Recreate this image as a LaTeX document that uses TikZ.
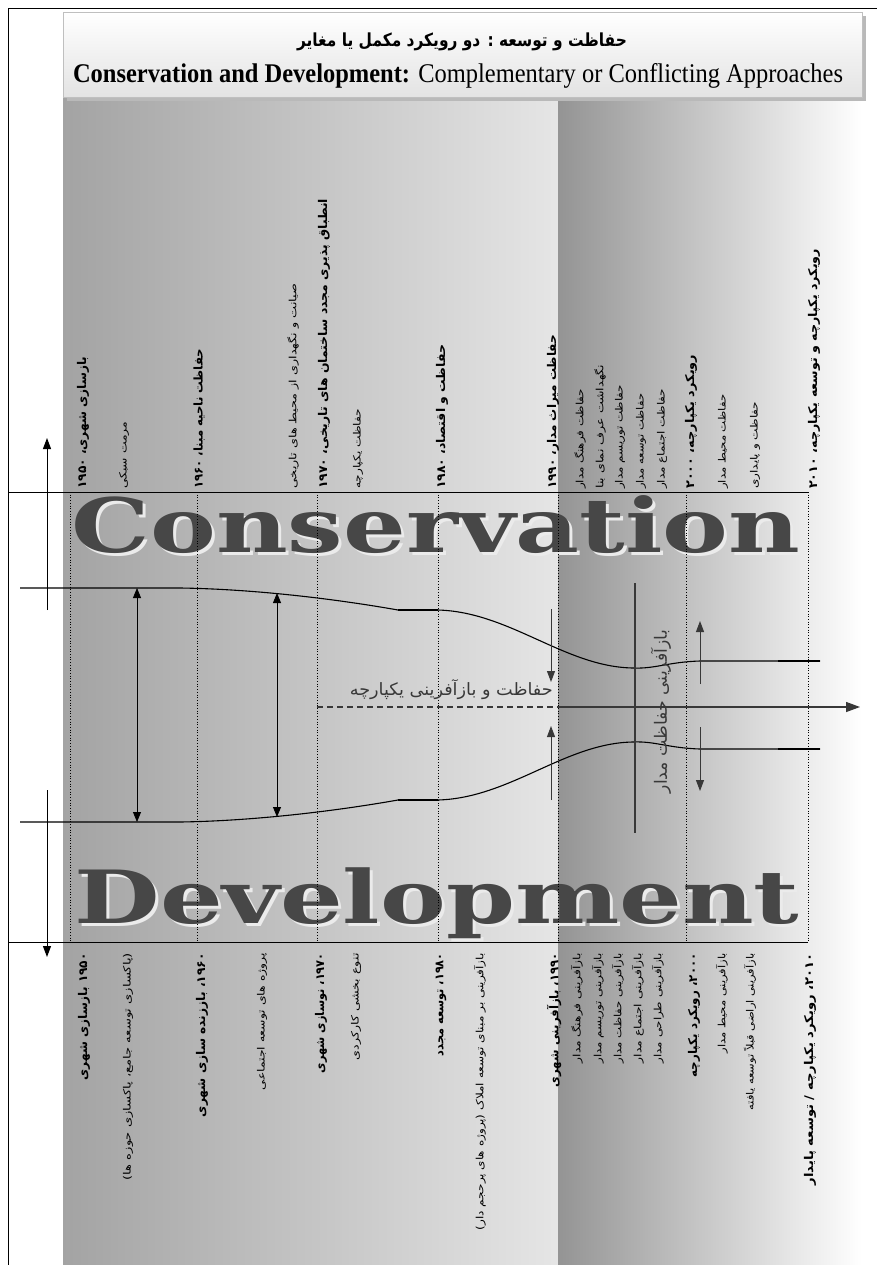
\documentclass[tikz,border=0pt]{standalone}
\usepackage{fontspec}
\usepackage{graphicx}
\usetikzlibrary{arrows.meta}
\setmainfont{Liberation Serif}
\newfontfamily\fa[Script=Arabic]{DejaVu Sans}
\newfontfamily\bigserif{DejaVu Serif}
\TeXXeTstate=1
\newlength\fwlen
\newcommand{\fw}[2]{\settowidth{\fwlen}{#2}\pgfmathsetmacro\fwsx{#1/\fwlen}\scalebox{\fwsx}[1]{#2}}
\definecolor{ink}{gray}{0.22}
\definecolor{bandA}{gray}{0.64}
\definecolor{bandB}{gray}{0.90}
\definecolor{bandC}{gray}{0.58}
\definecolor{bigtxt}{gray}{0.28}
\definecolor{bigsh}{gray}{0.92}
\tikzset{
  smallfa/.style={font=\fa\fontsize{10}{12}\selectfont, inner sep=0pt, rotate=90},
  boldfa/.style={font=\fa\bfseries\fontsize{12}{14}\selectfont, inner sep=0pt, rotate=90},
  toplab/.style={anchor=west},
  botlab/.style={anchor=east},
  curve/.style={line width=1.1pt, black},
  boxline/.style={line width=0.9pt, black},
  yearline/.style={line width=0.7pt, black, dotted},
  dblarrow/.style={line width=0.8pt, {Triangle[length=10pt,width=8pt]}-{Triangle[length=10pt,width=8pt]}},
  onearrow/.style={line width=1pt, ink, -{Triangle[length=11pt,width=8pt]}},
  sidearrow/.style={line width=1pt, black, -{Triangle[length=11pt,width=8pt]}},
  midlab/.style={font=\fa\fontsize{17}{19}\selectfont, text=ink, inner sep=0pt}
}
\begin{document}
\begin{tikzpicture}[x=1pt,y=-1pt]
\useasboundingbox (0,0) rectangle (877,1265);
% background bands
\shade[left color=bandA, right color=bandB] (63,97) rectangle (558,1265);
\shade[left color=bandC, right color=white] (558,97) rectangle (862,1265);
% frame
\draw[line width=0.9pt] (8,1265) -- (8,8) -- (877,8);
% header
\fill[gray!55] (67,16) rectangle (866,101);
\shade[top color=white, bottom color=gray!22, draw=gray!50] (63,12) rectangle (862,97);
\node[font=\fa\bfseries\fontsize{18}{20}\selectfont] (h1) at (462,42) {\fw{330}{\beginR حفاظت و توسعه : دو رویکرد مکمل یا مغایر\endR}};
\node[font=\fontsize{27}{30}\selectfont] (h2) at (458,76) {\fw{770}{\textbf{Conservation and Development:} Complementary or Conflicting Approaches}};
% big words
\node[anchor=base, text=bigsh, inner sep=0pt] (consh) at (439,555) {\resizebox{728pt}{57pt}{\bigserif\bfseries Conservation}};
\node[anchor=base, text=bigtxt, inner sep=0pt] (con) at (436,552) {\resizebox{728pt}{57pt}{\bigserif\bfseries Conservation}};
\node[anchor=north, text=bigsh, inner sep=0pt] (devsh) at (440,871) {\resizebox*{725pt}{71pt}{\bigserif\bfseries Development}};
\node[anchor=north, text=bigtxt, inner sep=0pt] (dev) at (437,868) {\resizebox*{725pt}{71pt}{\bigserif\bfseries Development}};
% box lines
\coordinate (tl) at (8,492); \coordinate (tr) at (808,492);
\coordinate (bl) at (8,942); \coordinate (br) at (808,942);
\draw[boxline] (tl) -- (tr);
\draw[boxline] (bl) -- (br);
\foreach \xx in {70,197,317,438,558,686,808}{
  \draw[yearline] (\xx,492) -- (\xx,942);
}
% curves
\draw[curve] (20,588) -- (180,588) .. controls (250,589) and (330,598) .. (398,610) -- (438,610) .. controls (510,612) and (565,667) .. (633,668) .. controls (655,669) and (668,662) .. (700,661) -- (820,661);
\draw[curve] (20,822) -- (180,822) .. controls (250,821) and (330,812) .. (398,800) -- (438,800) .. controls (510,798) and (565,743) .. (633,742) .. controls (655,741) and (668,748) .. (700,749) -- (820,749);
\draw[line width=2pt] (398,610) -- (438,610);
\draw[line width=2pt] (398,800) -- (438,800);
\draw[line width=2pt] (778,661) -- (820,661);
\draw[line width=2pt] (778,749) -- (820,749);
% double arrows
\coordinate (d1t) at (137,588); \coordinate (d1b) at (137,822);
\coordinate (d2t) at (277,593); \coordinate (d2b) at (277,817);
\draw[dblarrow] (d1t) -- (d1b);
\draw[dblarrow] (d2t) -- (d2b);
% side arrows
\coordinate (s1a) at (47,610); \coordinate (s1b) at (47,438);
\coordinate (s2a) at (47,790); \coordinate (s2b) at (47,957);
\draw[sidearrow] (s1a) -- (s1b);
\draw[sidearrow] (s2a) -- (s2b);
% central axis
\coordinate (ax0) at (317,707); \coordinate (ax1) at (558,707); \coordinate (ax2) at (860,707);
\draw[ink, line width=1.4pt, dash pattern=on 6pt off 4pt] (ax0) -- (ax1);
\draw[ink, line width=1.3pt, -{Triangle[length=14pt,width=10pt]}] (ax1) -- (ax2);
\coordinate (vl0) at (635,583); \coordinate (vl1) at (635,833);
\draw[ink, line width=1.2pt] (vl0) -- (vl1);
% convergence arrows
\coordinate (c1a) at (551,609); \coordinate (c1b) at (551,682);
\coordinate (c2a) at (551,800); \coordinate (c2b) at (551,726);
\coordinate (c3a) at (700,684); \coordinate (c3b) at (700,621);
\coordinate (c4a) at (700,727); \coordinate (c4b) at (700,791);
\draw[onearrow] (c1a) -- (c1b);
\draw[onearrow] (c2a) -- (c2b);
\draw[onearrow] (c3a) -- (c3b);
\draw[onearrow] (c4a) -- (c4b);
% middle labels
\node[midlab, anchor=east] (m1) at (553,690) {\fw{203}{\beginR حفاظت و بازآفرینی یکپارچه\endR}};
\node[midlab, rotate=90, anchor=east] (m2) at (661,630) {\fw{163}{\beginR بازآفرینی حفاظت مدار\endR}};
% upper labels
\node[boldfa,toplab] (u1) at (83,489) {\fw{132}{\beginR بازسازی شهری، ۱۹۵۰\endR}};
\node[smallfa,toplab] (u2) at (124,489) {\fw{67}{\beginR مرمت سبکی\endR}};
\node[boldfa,toplab] (u3) at (199,489) {\fw{140}{\beginR حفاظت ناحیه مبنا، ۱۹۶۰\endR}};
\node[smallfa,toplab] (u4) at (293,489) {\fw{205}{\beginR صیانت و نگهداری از محیط های تاریخی\endR}};
\node[boldfa,toplab] (u5) at (324,489) {\fw{290}{\beginR انطباق پذیری مجدد ساختمان های تاریخی، ۱۹۷۰\endR}};
\node[smallfa,toplab] (u6) at (358,489) {\fw{80}{\beginR حفاظت یکپارچه\endR}};
\node[boldfa,toplab] (u7) at (442,489) {\fw{144}{\beginR حفاظت و اقتصاد، ۱۹۸۰\endR}};
\node[boldfa,toplab] (u8) at (553,489) {\fw{154}{\beginR حفاظت میراث مدار، ۱۹۹۰\endR}};
\node[smallfa,toplab] (u9) at (580,489) {\fw{100}{\beginR حفاظت فرهنگ مدار\endR}};
\node[smallfa,toplab] (u10) at (600,489) {\fw{124}{\beginR نگهداشت عرف نمای بنا\endR}};
\node[smallfa,toplab] (u11) at (620,489) {\fw{104}{\beginR حفاظت توریسم مدار\endR}};
\node[smallfa,toplab] (u12) at (641,489) {\fw{95}{\beginR حفاظت توسعه مدار\endR}};
\node[smallfa,toplab] (u13) at (662,489) {\fw{100}{\beginR حفاظت اجتماع مدار\endR}};
\node[boldfa,toplab] (u14) at (691,489) {\fw{134}{\beginR رویکرد یکپارچه، ۲۰۰۰\endR}};
\node[smallfa,toplab] (u15) at (723,489) {\fw{94}{\beginR حفاظت محیط مدار\endR}};
\node[smallfa,toplab] (u16) at (755,489) {\fw{87}{\beginR حفاظت و پایداری\endR}};
\node[boldfa,toplab] (u17) at (814,489) {\fw{240}{\beginR رویکرد یکپارچه و توسعه یکپارچه، ۲۰۱۰\endR}};
% lower labels
\node[boldfa,botlab] (l1) at (84,953) {\fw{127}{\beginR ۱۹۵۰ بازسازی شهری\endR}};
\node[smallfa,botlab] (l2) at (128,953) {\fw{227}{\beginR (پاکسازی توسعه جامع، پاکسازی حوزه ها)\endR}};
\node[boldfa,botlab] (l3) at (202,953) {\fw{164}{\beginR ۱۹۶۰\kern0pt، باززنده سازی شهری\endR}};
\node[smallfa,botlab] (l4) at (262,953) {\fw{137}{\beginR پروژه های توسعه اجتماعی\endR}};
\node[boldfa,botlab] (l5) at (321,953) {\fw{120}{\beginR ۱۹۷۰\kern0pt، نوسازی شهری\endR}};
\node[smallfa,botlab] (l6) at (356,953) {\fw{107}{\beginR تنوع بخشی کارکردی\endR}};
\node[boldfa,botlab] (l7) at (441,953) {\fw{103}{\beginR ۱۹۸۰\kern0pt، توسعه مجدد\endR}};
\node[smallfa,botlab] (l8) at (480,953) {\fw{277}{\beginR بازآفرینی بر مبنای توسعه املاک (پروژه های پرحجم دار)\endR}};
\node[boldfa,botlab] (l9) at (554,953) {\fw{134}{\beginR ۱۹۹۰\kern0pt، بازآفرینی شهری\endR}};
\node[smallfa,botlab] (l10) at (577,953) {\fw{110}{\beginR بازآفرینی فرهنگ مدار\endR}};
\node[smallfa,botlab] (l11) at (598,953) {\fw{110}{\beginR بازآفرینی توریسم مدار\endR}};
\node[smallfa,botlab] (l12) at (618,953) {\fw{110}{\beginR بازآفرینی حفاظت مدار\endR}};
\node[smallfa,botlab] (l13) at (638,953) {\fw{110}{\beginR بازآفرینی اجتماع مدار\endR}};
\node[smallfa,botlab] (l14) at (658,953) {\fw{110}{\beginR بازآفرینی طراحی مدار\endR}};
\node[boldfa,botlab] (l15) at (694,953) {\fw{124}{\beginR ۲۰۰۰\kern0pt، رویکرد یکپارچه\endR}};
\node[smallfa,botlab] (l16) at (722,953) {\fw{100}{\beginR بازآفرینی محیط مدار\endR}};
\node[smallfa,botlab] (l17) at (750,953) {\fw{157}{\beginR بازآفرینی اراضی قبلاً توسعه یافته\endR}};
\node[boldfa,botlab] (l18) at (810,953) {\fw{232}{\beginR ۲۰۱۰\kern0pt، رویکرد یکپارچه / توسعه پایدار\endR}};
\end{tikzpicture}
\end{document}
